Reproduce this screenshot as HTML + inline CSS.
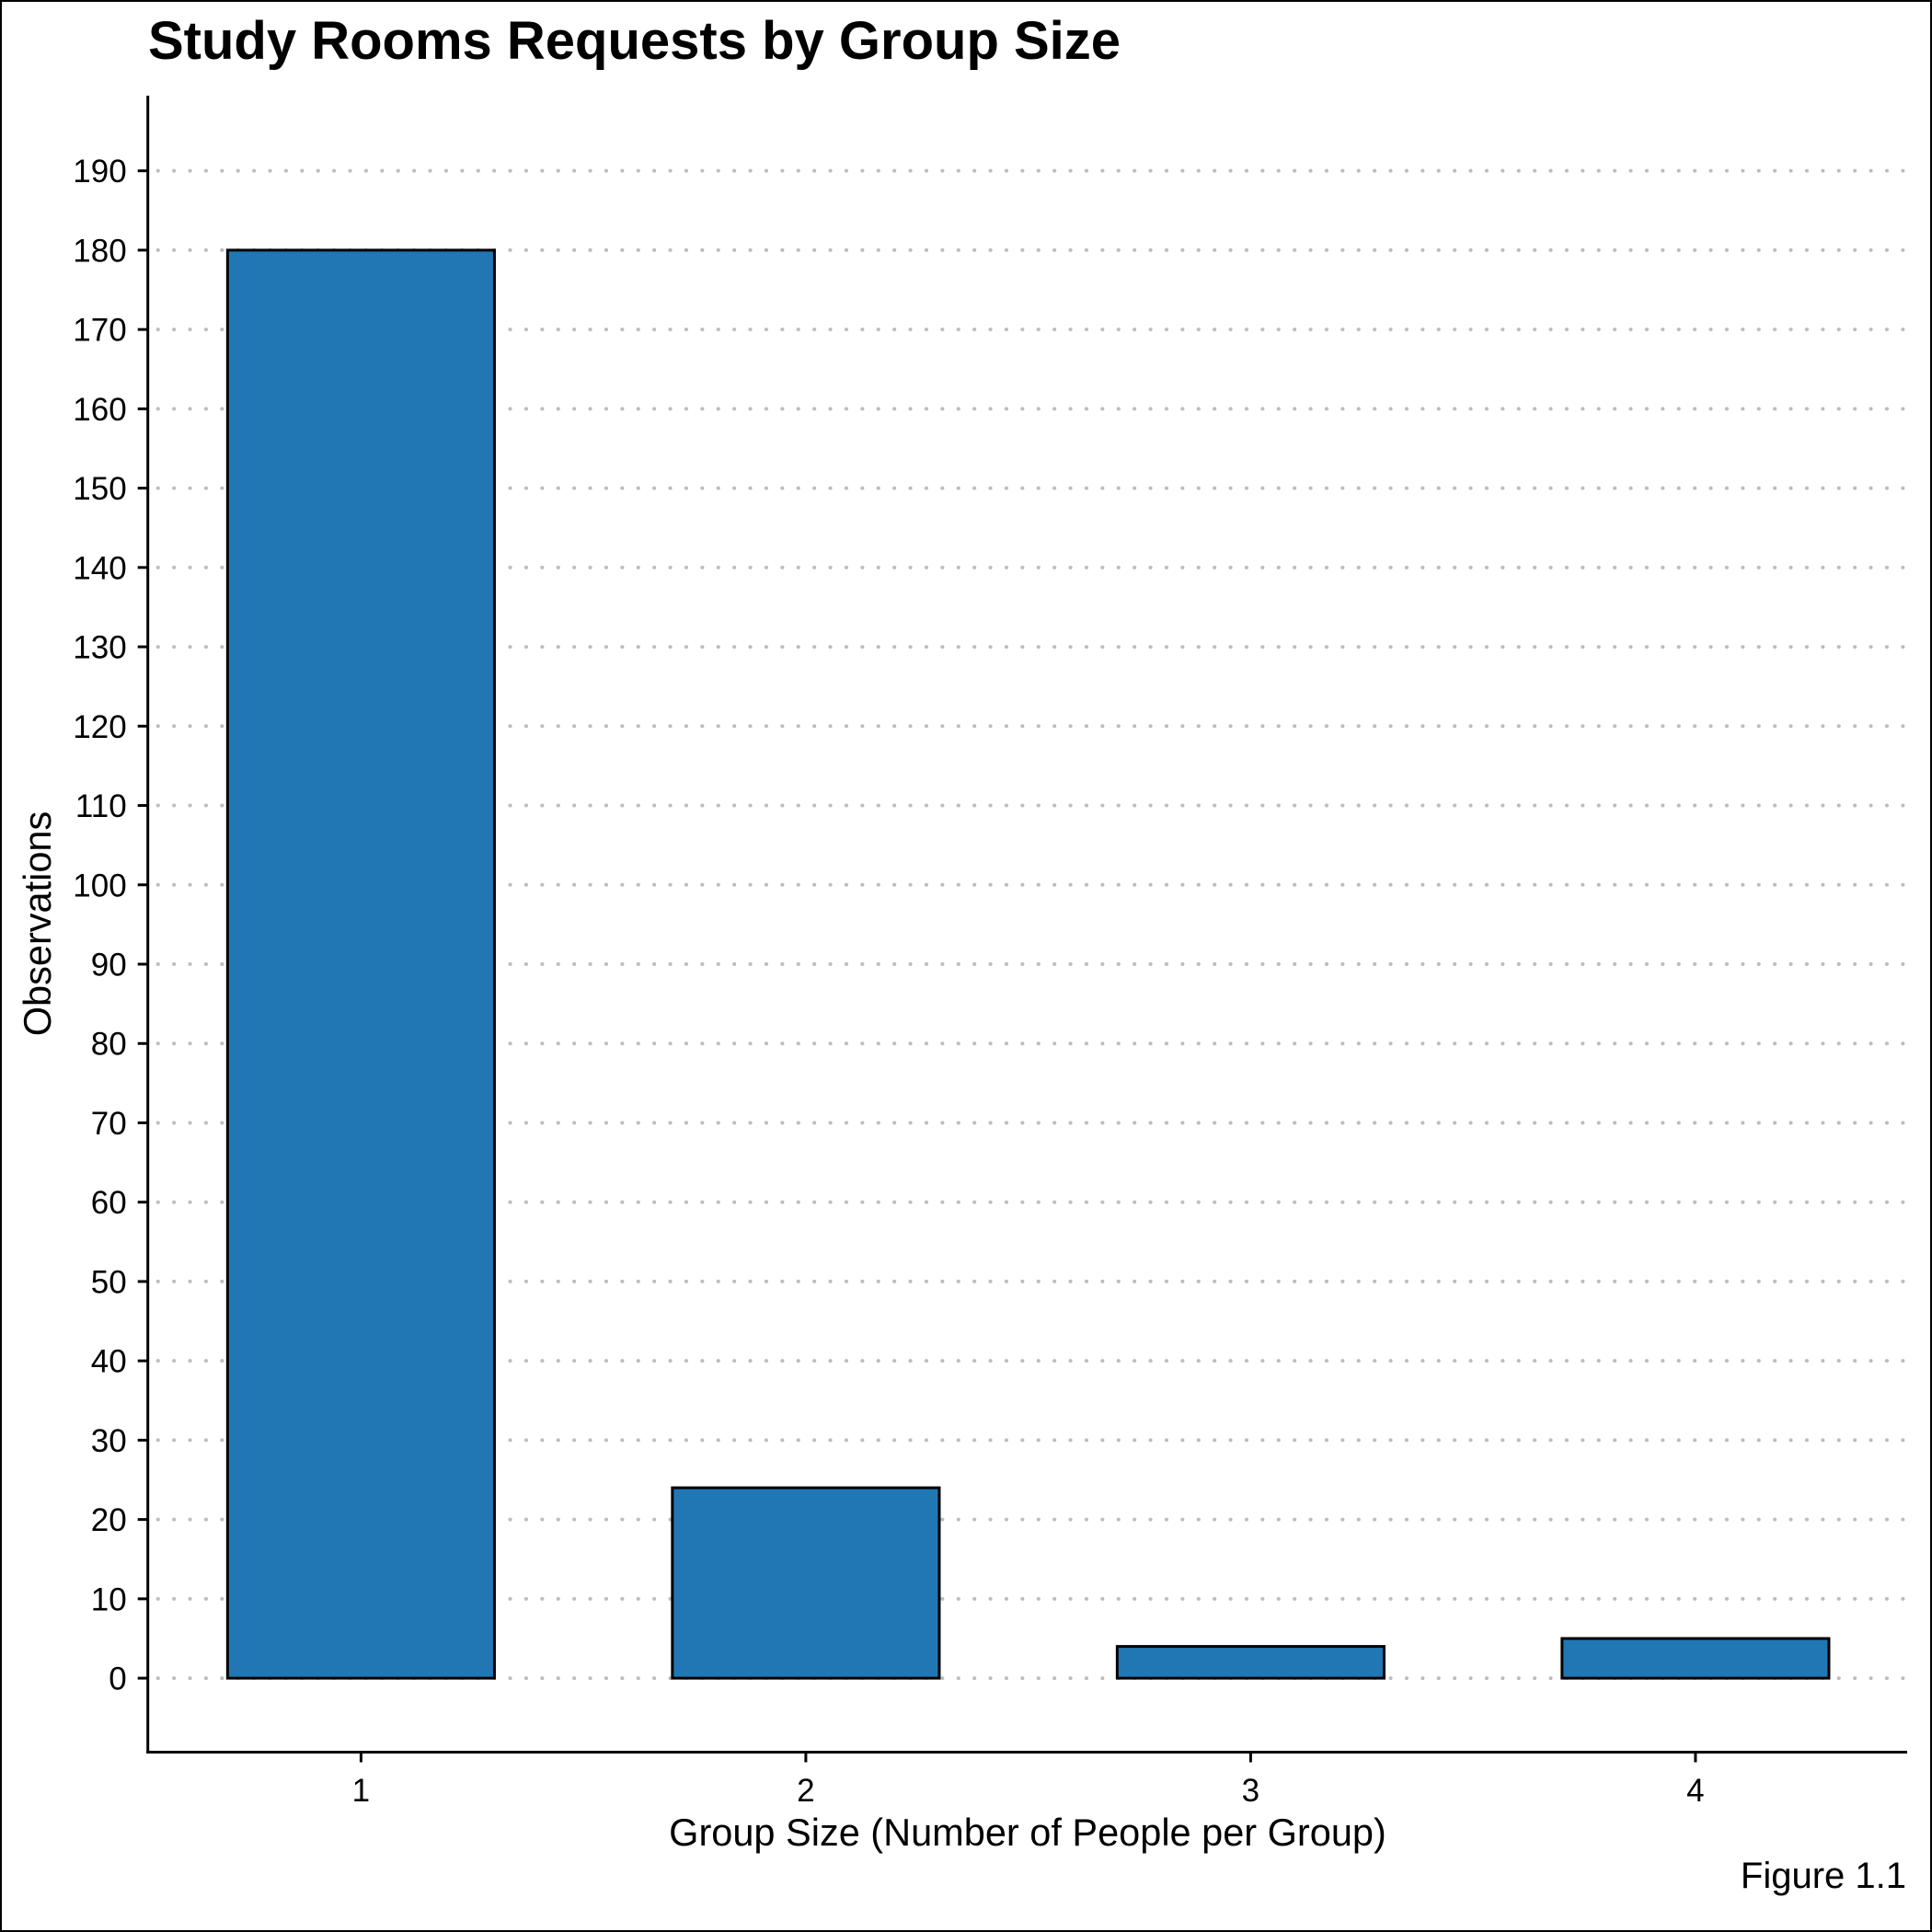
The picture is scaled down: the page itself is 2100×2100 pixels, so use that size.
<!DOCTYPE html>
<html><head><meta charset="utf-8"><style>
html,body{margin:0;padding:0;background:#fff;}
svg{display:block;}
text{font-family:"Liberation Sans",Arial,sans-serif;fill:#000;}
</style></head><body>
<svg id="chart" width="2100" height="2100" viewBox="0 0 2100 2100" xmlns="http://www.w3.org/2000/svg">
<rect x="1" y="1" width="2098" height="2098" fill="#fff" stroke="#000" stroke-width="2"/>
<text x="161" y="64" font-size="58" font-weight="bold">Study Rooms Requests by Group Size</text>
<g id="grid"></g>
<g id="bars"></g>
<g id="axes"></g>
<text x="1117" y="2006" font-size="41.5" text-anchor="middle">Group Size (Number of People per Group)</text>
<text transform="translate(55,1004) rotate(-90)" font-size="41.5" text-anchor="middle">Observations</text>
<text x="2072" y="2052" font-size="40" text-anchor="end">Figure 1.1</text>
</svg>
<script>
const categories = ["1","2","3","4"];
const values = [180, 24, 4, 5];
const yTicks = [0,10,20,30,40,50,60,70,80,90,100,110,120,130,140,150,160,170,180,190];

const NS = "http://www.w3.org/2000/svg";
const axisX = 160.7, axisTop = 104, axisBottom = 1904.5, axisRight = 2073;
const y0px = 1824.1, unitPx = (1824.1 - 271.9) / 180;
const cat0 = 392.4, catStep = 483.5, barW = catStep * 0.6;
function yScale(v){ return y0px - v * unitPx; }
function xScale(i){ return cat0 + i * catStep; }
function mk(tag, attrs, parent){
  const e = document.createElementNS(NS, tag);
  for (const k in attrs) e.setAttribute(k, attrs[k]);
  parent.appendChild(e);
  return e;
}
const grid = document.getElementById('grid');
const bars = document.getElementById('bars');
const axes = document.getElementById('axes');

yTicks.forEach(t => {
  const y = yScale(t);
  const g = mk('line', {x1: axisX + 11, x2: axisRight, y1: y, y2: y, stroke: '#bdbdbd', 'stroke-width': 4, 'stroke-dasharray': '0.1 17.3', 'stroke-linecap': 'round'}, grid);
  
  
  const tk = mk('line', {x1: axisX - 11, x2: axisX, y1: y, y2: y, stroke: '#000', 'stroke-width': 3}, axes);
  
  
  const lb = mk('text', {x: axisX - 23, y: y + 12.5, 'font-size': 35, 'text-anchor': 'end'}, axes);
  lb.textContent = t;
  
  
});

categories.forEach((c, i) => {
  const x = xScale(i);
  const top = yScale(values[i]);
  const r = mk('rect', {x: x - barW/2, y: top, width: barW, height: y0px - top, fill: '#2077b4', stroke: '#000', 'stroke-width': 3}, bars);
  
  
  const tk = mk('line', {x1: x, x2: x, y1: axisBottom, y2: axisBottom + 11, stroke: '#000', 'stroke-width': 3}, axes);
  
  
  const lb = mk('text', {x: x, y: 1958, 'font-size': 35, 'text-anchor': 'middle'}, axes);
  lb.textContent = c;
  
  
});

const ya = mk('line', {x1: axisX, x2: axisX, y1: axisTop, y2: axisBottom + 1.5, stroke: '#000', 'stroke-width': 3}, axes);


const xa = mk('line', {x1: axisX - 1.5, x2: axisRight, y1: axisBottom, y2: axisBottom, stroke: '#000', 'stroke-width': 3}, axes);


</script>
</body></html>
